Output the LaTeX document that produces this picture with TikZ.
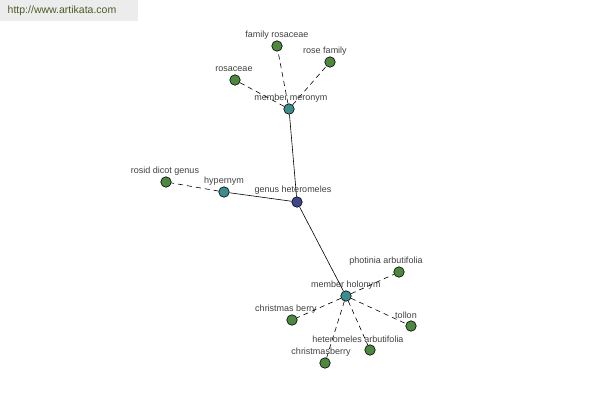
\documentclass[tikz,border=0pt]{standalone}
\usepackage{fontspec}
\setmainfont{Liberation Sans}
\usetikzlibrary{positioning}

\definecolor{hubblue}{RGB}{62,72,140}
\definecolor{relteal}{RGB}{62,140,142}
\definecolor{leafgreen}{RGB}{76,136,62}
\definecolor{labelgrey}{RGB}{64,64,64}
\definecolor{markgreen}{RGB}{74,92,40}
\definecolor{markbg}{RGB}{236,236,236}

\begin{document}
\begin{tikzpicture}[
x=1pt, y=-1pt,
font=\fontsize{9}{10}\selectfont,
dot/.style={
circle, draw=black, line width=0.6pt,
inner sep=0pt, minimum size=10.5pt
},
hub/.style={dot, fill=hubblue},
relation/.style={dot, fill=relteal},
leaf/.style={dot, fill=leafgreen},
tag/.style={text=labelgrey, inner sep=0pt},
link/.style={line width=0.6pt},
weak/.style={line width=0.6pt, dash pattern=on 5pt off 4pt}
]

\useasboundingbox (0,0) rectangle (600,400);

\fill[markbg] (0,0) rectangle (138,21);
\node[text=markgreen, inner sep=0pt, font=\fontsize{10.5}{12}\selectfont] (site) at (62,11) {http://www.artikata.com};

\node[hub] (genus) at (297,202) {};
\node[tag] (genusTag) at (293,190) {genus heteromeles};

\node[relation] (meronym) at (289,109) {};
\node[tag] (meronymTag) at (291,98) {member meronym};

\node[relation] (hypernym) at (224,192) {};
\node[tag] (hypernymTag) at (224,181) {hypernym};

\node[relation] (holonym) at (346,296) {};
\node[tag] (holonymTag) at (346,285) {member holonym};

\node[leaf] (rosid) at (166,182) {};
\node[tag] (rosidTag) at (165,171) {rosid dicot genus};

\node[leaf] (rosaceae) at (235,80) {};
\node[tag] (rosaceaeTag) at (234,69) {rosaceae};

\node[leaf] (familyRosaceae) at (277,46) {};
\node[tag] (familyRosaceaeTag) at (277,35) {family rosaceae};

\node[leaf] (roseFamily) at (330,62) {};
\node[tag] (roseFamilyTag) at (325,51) {rose family};

\node[leaf] (photinia) at (399,272) {};
\node[tag] (photiniaTag) at (386,261) {photinia arbutifolia};

\node[leaf] (christmasBerry) at (292,320) {};
\node[tag] (christmasBerryTag) at (286,309) {christmas berry};

\node[leaf] (tollon) at (411,326) {};
\node[tag] (tollonTag) at (406,315) {tollon};

\node[leaf] (arbutifolia) at (370,350) {};
\node[tag] (arbutifoliaTag) at (358,339) {heteromeles arbutifolia};

\node[leaf] (christmasberry) at (325,363) {};
\node[tag] (christmasberryTag) at (321,352) {christmasberry};

\draw[link] (genus) -- (meronym);
\draw[link] (genus) -- (hypernym);
\draw[link] (genus) -- (holonym);

\draw[weak] (meronym) -- (rosaceae);
\draw[weak] (meronym) -- (familyRosaceae);
\draw[weak] (meronym) -- (roseFamily);

\draw[weak] (hypernym) -- (rosid);

\draw[weak] (holonym) -- (photinia);
\draw[weak] (holonym) -- (christmasBerry);
\draw[weak] (holonym) -- (tollon);
\draw[weak] (holonym) -- (arbutifolia);
\draw[weak] (holonym) -- (christmasberry);

\end{tikzpicture}
\end{document}
